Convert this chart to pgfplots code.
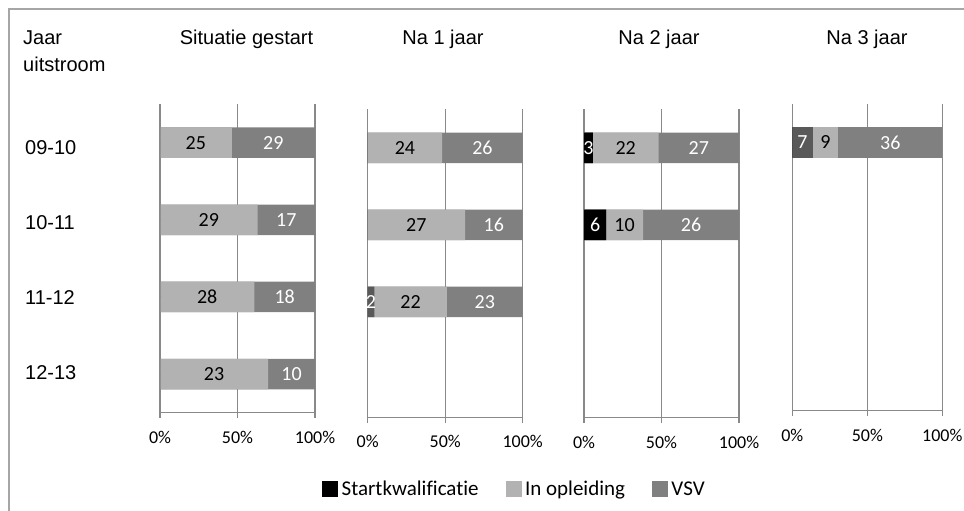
\documentclass[border=0pt]{standalone}
\usepackage{pgfplots}
\usepackage{pgfplotstable}
\pgfplotsset{compat=1.18}
\usepackage{fontspec}
\setmainfont{Liberation Sans}
\newfontfamily\calfont[Ligatures=NoCommon]{Carlito}

\definecolor{cStart}{HTML}{000000}
\definecolor{cOpl}{HTML}{B2B2B2}
\definecolor{cVSV}{HTML}{808080}
\definecolor{cDark}{HTML}{595959}
\definecolor{cGrid}{HTML}{898989}
\definecolor{cFrame}{HTML}{A6A6A6}

% y: 3 = 09-10, 2 = 10-11, 1 = 11-12, 0 = 12-13
% s = Startkwalificatie, d = (donkergrijs, niet in legenda), i = In opleiding, v = VSV
\pgfplotstableread{
y s d i v
3 0 0 25 29
2 0 0 29 17
1 0 0 28 18
0 0 0 23 10
}\tabA
\pgfplotstableread{
y s d i v
3 0 0 24 26
2 0 0 27 16
1 0 2 22 23
}\tabB
\pgfplotstableread{
y s d i v
3 3 0 22 27
2 6 0 10 26
}\tabC
\pgfplotstableread{
y s d i v
3 0 7 9 36
}\tabD

\newcommand\prep[1]{%
\pgfplotstablecreatecol[create col/expr={\thisrow{s}+\thisrow{d}+\thisrow{i}+\thisrow{v}}]{tot}{#1}%
\pgfplotstablecreatecol[create col/expr={100*\thisrow{s}/\thisrow{tot}}]{es}{#1}%
\pgfplotstablecreatecol[create col/expr={100*(\thisrow{s}+\thisrow{d})/\thisrow{tot}}]{ed}{#1}%
\pgfplotstablecreatecol[create col/expr={100*(\thisrow{s}+\thisrow{d}+\thisrow{i})/\thisrow{tot}}]{ei}{#1}%
\pgfplotstablecreatecol[create col/expr={100*\thisrow{tot}/\thisrow{tot}}]{ev}{#1}%
\pgfplotstablecreatecol[create col/expr={\thisrow{es}/2}]{ms}{#1}%
\pgfplotstablecreatecol[create col/expr={(\thisrow{es}+\thisrow{ed})/2}]{md}{#1}%
\pgfplotstablecreatecol[create col/expr={(\thisrow{ed}+\thisrow{ei})/2}]{mi}{#1}%
\pgfplotstablecreatecol[create col/expr={(\thisrow{ei}+\thisrow{ev})/2}]{mv}{#1}%
}
\prep\tabA
\prep\tabB
\prep\tabC
\prep\tabD

\pgfplotsset{
 panel/.style={
  scale only axis,
  xmin=0, xmax=100, ymin=-0.5, ymax=3.5,
  axis x line*=bottom, axis y line=none,
  x axis line style={cGrid, line width=1.2pt, -},
  xtick={0,50,100}, xticklabels={0\%,50\%,100\%},
  xtick align=outside, major tick length=5.5pt,
  xtick style={cGrid, line width=1.2pt},
  xmajorgrids, major grid style={cGrid, line width=1.2pt},
  ytick=\empty,
  xticklabel style={font=\calfont\fontsize{18}{22}\selectfont, text=black, yshift=-9pt},
  clip=false,
 },
 bseg/.style={xbar, bar shift=0pt, bar width=30.5pt, draw=none, fill=#1, forget plot},
 lbl/.style={draw=none, mark=*, mark size=0pt, mark options={draw=none,fill=none}, forget plot,
   point meta=explicit symbolic,
   nodes near coords={\ifnum\pgfplotspointmeta>0 \pgfplotspointmeta\fi},
   every node near coord/.append style={anchor=center, text=#1, font=\calfont\fontsize{20}{24}\selectfont, inner sep=0pt}},
}

\newcommand\panelplots[1]{%
 \addplot[bseg=cVSV] table[x=ev,y=y]{#1};
 \addplot[bseg=cOpl] table[x=ei,y=y]{#1};
 \addplot[bseg=cDark] table[x=ed,y=y]{#1};
 \addplot[bseg=cStart] table[x=es,y=y]{#1};
 \addplot[lbl=white] table[x=ms,y=y,meta=s]{#1};
 \addplot[lbl=white] table[x=md,y=y,meta=d]{#1};
 \addplot[lbl=black] table[x=mi,y=y,meta=i]{#1};
 \addplot[lbl=white] table[x=mv,y=y,meta=v]{#1};
}

\newcommand\arial{\fontsize{20}{24}\selectfont}

\begin{document}
\begin{tikzpicture}
\path[use as bounding box] (0pt,0pt) rectangle (964pt,-511pt);
\draw[cFrame, line width=2pt] (9pt,-520pt) -- (9pt,-9pt) -- (970pt,-9pt);

\node[anchor=base west, inner sep=0pt, font=\arial] at (23pt,-45pt) {Jaar};
\node[anchor=base west, inner sep=0pt, font=\arial] at (23pt,-72pt) {uitstroom};
\node[anchor=base, inner sep=0pt, font=\arial] at (246.5pt,-45pt) {Situatie gestart};
\node[anchor=base, inner sep=0pt, font=\arial] at (443pt,-45pt) {Na 1 jaar};
\node[anchor=base, inner sep=0pt, font=\arial] at (659pt,-45pt) {Na 2 jaar};
\node[anchor=base, inner sep=0pt, font=\arial] at (867pt,-45pt) {Na 3 jaar};

\node[anchor=base west, inner sep=0pt, font=\arial] at (25pt,-154pt) {09-10};
\node[anchor=base west, inner sep=0pt, font=\arial] at (25pt,-229pt) {10-11};
\node[anchor=base west, inner sep=0pt, font=\arial] at (25pt,-304pt) {11-12};
\node[anchor=base west, inner sep=0pt, font=\arial] at (25pt,-379pt) {12-13};

\begin{axis}[panel, at={(160pt,-412.7pt)}, anchor=south west, width=155pt, height=308.7pt,
  legend columns=3,
  legend style={at={(2.2935,-0.2472)}, anchor=center, draw=none, fill=none,
    font=\calfont\fontsize{21}{25}\selectfont,
    nodes={inner xsep=4pt, inner ysep=1pt},
    /tikz/every even column/.append style={column sep=23pt}},
  ]
 \addlegendimage{legend image code/.code={\fill[cStart] (0pt,-7.5pt) rectangle (15pt,7.5pt);}}
 \addlegendentry{Startkwalificatie}
 \addlegendimage{legend image code/.code={\fill[cOpl] (0pt,-7.5pt) rectangle (15pt,7.5pt);}}
 \addlegendentry{In opleiding}
 \addlegendimage{legend image code/.code={\fill[cVSV] (0pt,-7.5pt) rectangle (15pt,7.5pt);}}
 \addlegendentry{VSV}
 \panelplots\tabA
\end{axis}

\begin{axis}[panel, at={(367.7pt,-417.5pt)}, anchor=south west, width=155pt, height=308.2pt]
 \panelplots\tabB
\end{axis}

\begin{axis}[panel, at={(584pt,-417.7pt)}, anchor=south west, width=155pt, height=308.5pt]
 \panelplots\tabC
\end{axis}

\begin{axis}[panel, at={(792.3pt,-410.7pt)}, anchor=south west, width=150pt, height=306.7pt]
 \panelplots\tabD
\end{axis}
\end{tikzpicture}
\end{document}
